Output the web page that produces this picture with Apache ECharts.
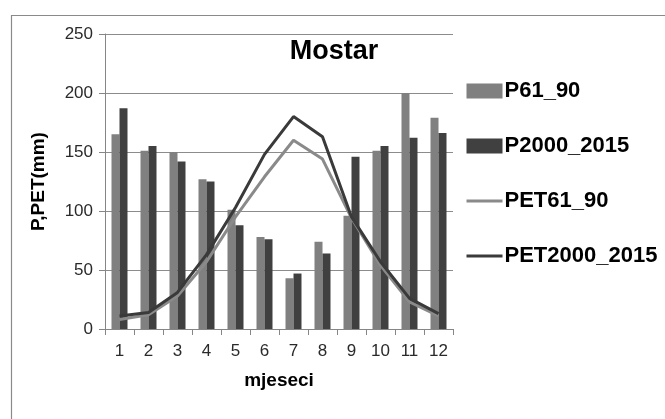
<!DOCTYPE html>
<html>
<head>
<meta charset="utf-8">
<script src="https://cdn.jsdelivr.net/npm/echarts@6/dist/echarts.min.js"></script>
<style>
html,body{margin:0;padding:0;background:#fff;}
#c{width:665px;height:419px;}
</style>
</head>
<body>
<div id="c"></div>
<script>
var months = ['1','2','3','4','5','6','7','8','9','10','11','12'];
var p61_90 = [165, 151, 150, 127, 101, 78, 43, 74, 96, 151, 200, 179];
var p2000_2015 = [187, 155, 142, 125, 88, 76, 47, 64, 146, 155, 162, 166];
var pet61_90 = [8, 12, 28, 57, 95, 129, 160, 144, 94, 54, 23, 11];
var pet2000_2015 = [11, 14, 31, 63, 103, 148, 180, 163, 95, 57, 26, 13];
var yTicks = [0, 50, 100, 150, 200, 250];

var FONT = '"Liberation Sans", Arial, sans-serif';
var chart = echarts.init(document.getElementById('c'), null, {renderer: 'canvas'});
chart.setOption({
  animation: false,
  backgroundColor: '#fff',
  graphic: [{
    type: 'rect', left: 9, top: 13, z: -1,
    shape: {width: 700, height: 460},
    style: {fill: 'none', stroke: '#8a8a8a', lineWidth: 1.2}
  }],
  title: {
    text: 'Mostar', left: 329, top: 33, textAlign: 'center',
    textStyle: {fontFamily: FONT, fontSize: 27, fontWeight: 'bold', color: '#000'}
  },
  legend: {
    orient: 'vertical', left: 460, top: 75, itemGap: 33,
    itemWidth: 36, itemHeight: 15,
    textStyle: {fontFamily: FONT, fontSize: 22, fontWeight: 'bold', color: '#000', padding: [0,0,0,-3]},
    data: [
      {name: 'P61_90', icon: 'rect'},
      {name: 'P2000_2015', icon: 'rect'},
      {name: 'PET61_90', itemStyle: {opacity: 0}, lineStyle: {width: 3}},
      {name: 'PET2000_2015', itemStyle: {opacity: 0}, lineStyle: {width: 3}}
    ]
  },
  grid: {left: 105, right: 212, top: 34, bottom: 90, containLabel: false},
  xAxis: {
    type: 'category', data: months,
    name: 'mjeseci', nameLocation: 'middle', nameGap: 42,
    nameTextStyle: {fontFamily: FONT, fontSize: 19, fontWeight: 'bold', color: '#000'},
    axisLine: {lineStyle: {color: '#868686', width: 1}},
    axisTick: {show: true, alignWithLabel: false, length: 6, lineStyle: {color: '#868686'}},
    axisLabel: {fontFamily: FONT, fontSize: 17, color: '#2a2a2a', margin: 14}
  },
  yAxis: {
    type: 'value', min: yTicks[0], max: yTicks[yTicks.length-1], interval: 50,
    name: 'P,PET(mm)', nameLocation: 'middle', nameGap: 57, nameRotate: 90,
    nameTextStyle: {fontFamily: FONT, fontSize: 19, fontWeight: 'bold', color: '#000'},
    axisLine: {show: true, lineStyle: {color: '#868686', width: 1}},
    axisTick: {show: true, inside: false, length: 6, lineStyle: {color: '#868686'}},
    axisLabel: {fontFamily: FONT, fontSize: 17, color: '#2a2a2a', margin: 12},
    splitLine: {show: true, lineStyle: {color: '#8c8c8c', width: 1}}
  },
  series: [
    {name: 'P61_90', type: 'bar', data: p61_90, barWidth: 8, barGap: '0%',
     itemStyle: {color: '#808080'}},
    {name: 'P2000_2015', type: 'bar', data: p2000_2015, barWidth: 8, barGap: '0%',
     itemStyle: {color: '#404040'}},
    {name: 'PET61_90', type: 'line', data: pet61_90, symbol: 'none',
     lineStyle: {color: '#8a8a8a', width: 3}, itemStyle: {color: '#8a8a8a'}},
    {name: 'PET2000_2015', type: 'line', data: pet2000_2015, symbol: 'none',
     lineStyle: {color: '#3a3a3a', width: 3}, itemStyle: {color: '#3a3a3a'}}
  ]
});
</script>
</body>
</html>
